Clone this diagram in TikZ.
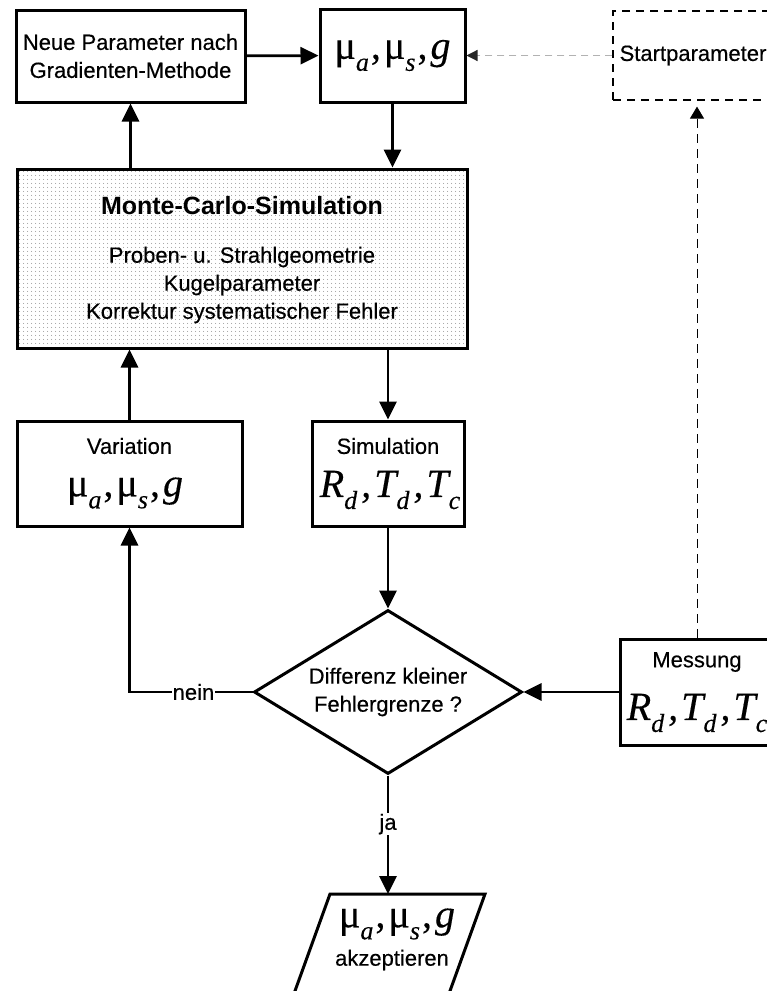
\documentclass[tikz,border=0pt]{standalone}
\usepackage{fontspec}
\setmainfont{Liberation Sans}[UprightFeatures={FakeBold=0.4}]
\newfontfamily\tms{Liberation Serif}[FakeBold=0.3]
\usetikzlibrary{arrows.meta,shapes.geometric,patterns.meta}
\newcommand\mysub[1]{\raisebox{-0.3em}{\fontsize{26}{26}\selectfont\itshape #1}}
\newcommand\muparams{{\tms μ\mysub{a}\kern2pt,\kern3pt μ\mysub{s}\kern2pt,\kern3pt{\itshape g}}}
\newcommand\rtt{{\tms\itshape R\mysub{d}\kern4pt,\kern3pt T\mysub{d}\kern4pt,\kern3pt T\mysub{c}}}
\newcommand\bigmath{\fontsize{40}{44}\selectfont}
\tikzset{
  box/.style={draw, line width=3pt, inner sep=0pt, align=center, font=\fontsize{22}{28}\selectfont},
  txt/.style={inner sep=0pt, align=center, font=\fontsize{22}{28}\selectfont},
  startbox/.style={draw, line width=1.2pt, dash pattern=on 8pt off 6pt, inner sep=0pt, font=\fontsize{22}{27}\selectfont},
  arr/.style={line width=2.8pt, -{Triangle[length=18pt,width=17pt]}},
  lbl/.style={fill=white, inner sep=1pt, font=\fontsize{22}{24}\selectfont},
}
\begin{document}
\begin{tikzpicture}[x=1pt,y=-1pt]
\clip (0,0) rectangle (767,991);
\useasboundingbox (0,0) rectangle (767,991);
\fill[white] (0,0) rectangle (767,991);

\node[box, minimum width=229pt, minimum height=92pt] (neue) at (130.5,56) {Neue Parameter nach\\Gradienten-Methode};
\node[box, minimum width=145pt, minimum height=93pt, font=\bigmath] (musg) at (392.5,55.5) {\muparams};
\node[startbox, minimum width=160pt, minimum height=89pt] (start) at (693,55.5) {Startparameter};

\node[box, pattern={Dots[distance=4pt,radius=0.6pt]}, pattern color=black!45, minimum width=450pt, minimum height=179pt] (mc) at (242,258.5) {};
\node[txt, font=\bfseries\fontsize{25}{27}\selectfont] (mctitle) at (242,206) {Monte-Carlo-Simulation};
\node[txt] (mcbody) at (242,285) {Proben- u. Strahlgeometrie\\Kugelparameter\\Korrektur systematischer Fehler};

\node[box, minimum width=225pt, minimum height=105pt] (var) at (129.5,473.5) {};
\node[txt] (varlbl) at (129.5,446) {Variation};
\node[txt, font=\bigmath] (varmu) at (125,493) {\muparams};

\node[box, minimum width=152pt, minimum height=105pt] (sim) at (388,473.5) {};
\node[txt] (simlbl) at (388,446) {Simulation};
\node[txt, font=\bigmath] (simrtt) at (390,490) {\rtt};

\node[draw, shape=diamond, aspect=1.634, line width=3pt, minimum width=268pt, minimum height=164pt, inner sep=0pt, align=center, font=\fontsize{22}{28}\selectfont] (dia) at (388,692) {Differenz kleiner\\Fehlergrenze ?};

\node[box, minimum width=154pt, minimum height=106pt] (mess) at (697,692) {};
\node[txt] (messlbl) at (697,662) {Messung};
\node[txt, font=\bigmath] (messrtt) at (697,713) {\rtt};

% parallelogram (output)
\draw[line width=3pt, line join=miter] (330,894) -- (485,894) -- (446,1002) -- (291,1002) -- cycle;
\coordinate (acctop) at (388,894);
\node[txt, font=\bigmath] (accmu) at (397,924) {\muparams};
\node[txt] (acctxt) at (392,960) {akzeptieren};

% connectors
\draw[arr] (neue) -- (musg);
\draw[arr] (mc.north -| neue.south) -- (neue.south);
\draw[arr] (musg.south) -- (musg.south |- mc.north);
\draw[arr] (var.north) -- (var.north |- mc.south);
\draw[arr] (sim.north |- mc.south) -- (sim.north);
\draw[arr] (sim.south) -- (dia.north);
\draw[arr] (mess.west) -- (dia.east);
\draw[arr] (dia.west) -- node[lbl, pos=0.48]{nein} (dia.west -| var.south) -- (var.south);
\draw[arr] (dia.south) -- node[lbl, pos=0.41]{ja} (acctop);
\draw[gray!60, line width=1.2pt, dash pattern=on 7pt off 5pt, -{Triangle[length=11pt,width=11pt,color=black!85]}] (start.west) -- (musg.east);
\draw[line width=1pt, dash pattern=on 9pt off 6pt, -{Triangle[length=12pt,width=14pt]}, shorten >=6pt] (mess.north) -- (mess.north |- start.south);
\end{tikzpicture}
\end{document}
